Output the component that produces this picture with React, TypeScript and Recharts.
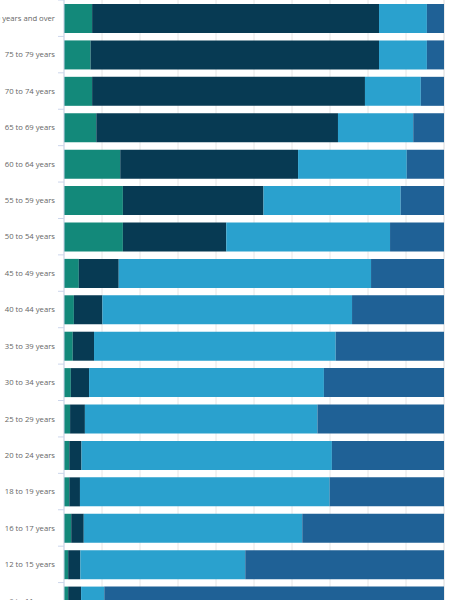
import React from 'react'
import { BarChart, Bar, XAxis, YAxis, CartesianGrid } from 'recharts'

// age groups, top to bottom
const AGES = [
  '80 years and over',
  '75 to 79 years',
  '70 to 74 years',
  '65 to 69 years',
  '60 to 64 years',
  '55 to 59 years',
  '50 to 54 years',
  '45 to 49 years',
  '40 to 44 years',
  '35 to 39 years',
  '30 to 34 years',
  '25 to 29 years',
  '20 to 24 years',
  '18 to 19 years',
  '16 to 17 years',
  '12 to 15 years',
  '6 to 11 years',
]

// share of each group (%)
const GREEN = [7.4, 7.0, 7.4, 8.5, 14.8, 15.5, 15.5, 3.9, 2.6, 2.3, 1.8, 1.6, 1.4, 1.4, 1.9, 1.1, 1.1]
const NAVY = [75.5, 75.9, 71.8, 63.6, 46.8, 37.0, 27.2, 10.5, 7.5, 5.6, 4.8, 3.9, 3.2, 2.8, 3.3, 3.2, 3.4]
const LIGHT = [12.6, 12.6, 14.7, 19.8, 28.6, 36.1, 43.1, 66.4, 65.7, 63.6, 61.8, 61.2, 65.9, 65.7, 57.5, 43.4, 6.1]
const DARK = [4.5, 4.5, 6.1, 8.1, 9.8, 11.4, 14.2, 19.2, 24.2, 28.5, 31.6, 33.3, 29.5, 30.1, 37.3, 52.3, 89.4]

const X_TICKS = [0, 10, 20, 30, 40, 50, 60, 70, 80, 90, 100]

const COLORS = {
  green: '#13897a',
  navy: '#073a53',
  light: '#2aa1ce',
  dark: '#1f6196',
}

const FONT = "'Open Sans', sans-serif"

const CHART_W = 480
const CHART_H = 660
const MARGIN = { top: 0, right: 6, bottom: 41, left: 0 }
const BAND = (CHART_H - MARGIN.top - MARGIN.bottom) / AGES.length

// the chart is shown as a crop of a taller one, so drop the page margin
if (typeof document !== 'undefined') document.body.style.margin = '0'

const data = AGES.map((age, i) => ({
  age,
  green: GREEN[i],
  navy: NAVY[i],
  light: LIGHT[i],
  dark: DARK[i],
}))

/** label at the band centre, small tick mark on the band boundary (highcharts style) */
function AgeTick(props: any) {
  const { x, y, payload } = props
  return (
    <g>
      <line x1={x + 2} x2={x + 8} y1={y - BAND / 2} y2={y - BAND / 2} stroke="#ccd6eb" />
      <text
        x={x - 1}
        y={y}
        dy={2.8}
        textAnchor="end"
        fill="#666666"
        style={{ fontSize: '7.7px', fontFamily: FONT }}
      >
        {payload.value}
      </text>
    </g>
  )
}

export default function App() {
  return (
    <div
      style={{
        position: 'relative',
        width: 450,
        height: 600,
        overflow: 'hidden',
        background: '#ffffff',
      }}
    >
      <div style={{ position: 'absolute', left: -30, top: 0 }}>
        <BarChart width={CHART_W} height={CHART_H} data={data} layout="vertical" margin={MARGIN}>
          <CartesianGrid horizontal={false} stroke="#e6e6e6" />
          <XAxis type="number" domain={[0, 100]} ticks={X_TICKS} hide />
          <YAxis
            type="category"
            dataKey="age"
            width={94}
            interval={0}
            tickLine={false}
            axisLine={{ stroke: '#ccd6eb' }}
            tick={<AgeTick />}
          />
          <Bar dataKey="green" stackId="s" fill={COLORS.green} barSize={29} isAnimationActive={false} />
          <Bar dataKey="navy" stackId="s" fill={COLORS.navy} barSize={29} isAnimationActive={false} />
          <Bar dataKey="light" stackId="s" fill={COLORS.light} barSize={29} isAnimationActive={false} />
          <Bar dataKey="dark" stackId="s" fill={COLORS.dark} barSize={29} isAnimationActive={false} />
        </BarChart>
      </div>
    </div>
  )
}
